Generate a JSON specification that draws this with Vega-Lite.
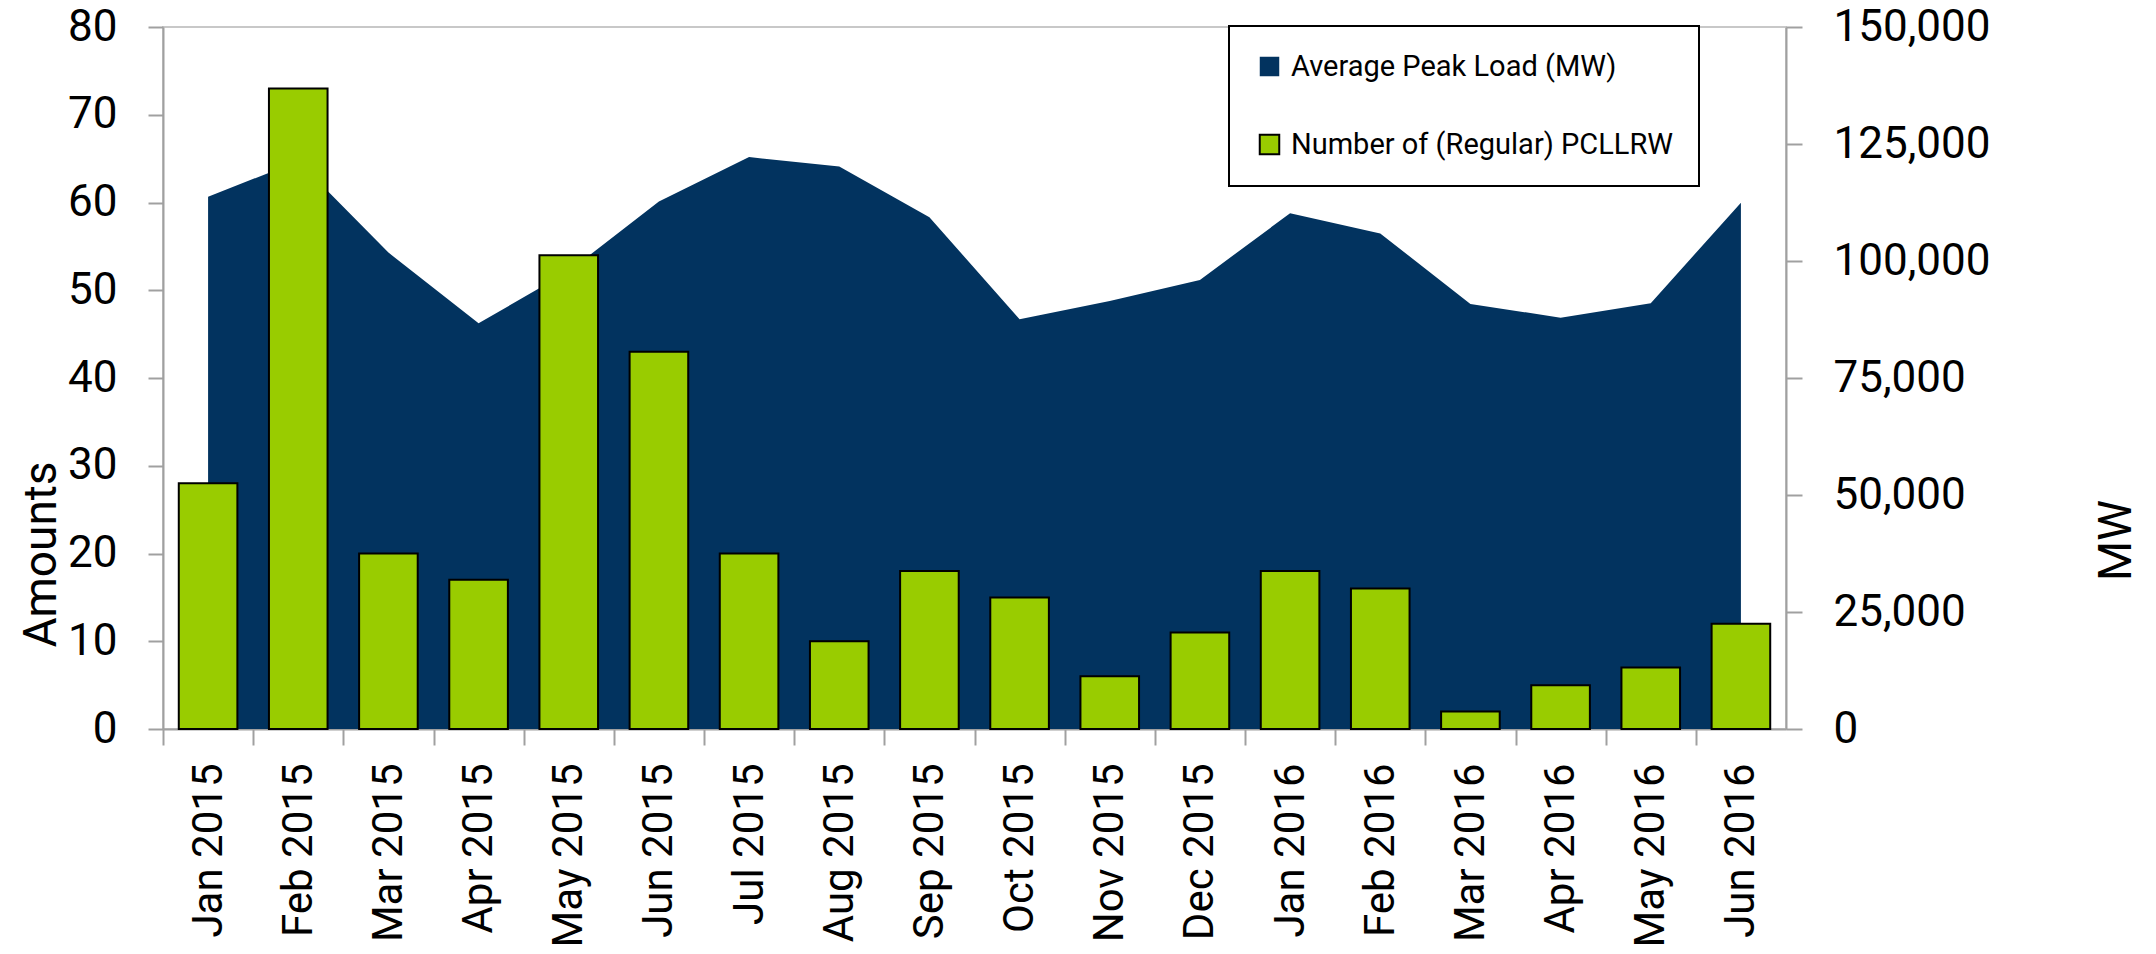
{
  "$schema": "https://vega.github.io/schema/vega-lite/v6.json",
  "width": 1623,
  "height": 702,
  "autosize": {"type": "none"},
  "padding": {"left": 163, "top": 27, "right": 370, "bottom": 225},
  "background": "white",
  "config": {
    "font": "Roboto",
    "view": {"stroke": "#c8c8c8", "strokeWidth": 2},
    "axis": {
      "domainColor": "#a0a0a0",
      "domainWidth": 2,
      "tickColor": "#a0a0a0",
      "tickWidth": 2,
      "labelFont": "Roboto",
      "labelFontSize": 44,
      "labelColor": "black",
      "labelLimit": 0,
      "titleFont": "Roboto",
      "titleFontSize": 46,
      "titleFontWeight": "normal",
      "titleColor": "black",
      "grid": false
    },
    "legend": {
      "labelFont": "Roboto",
      "labelLimit": 0
    }
  },
  "data": {
    "values": [
      {"month": "Jan 2015", "load": 113750, "count": 28},
      {"month": "Feb 2015", "load": 121300, "count": 73},
      {"month": "Mar 2015", "load": 101800, "count": 20},
      {"month": "Apr 2015", "load": 86700, "count": 17},
      {"month": "May 2015", "load": 97800, "count": 54},
      {"month": "Jun 2015", "load": 112700, "count": 43},
      {"month": "Jul 2015", "load": 122200, "count": 20},
      {"month": "Aug 2015", "load": 120200, "count": 10},
      {"month": "Sep 2015", "load": 109350, "count": 18},
      {"month": "Oct 2015", "load": 87550, "count": 15},
      {"month": "Nov 2015", "load": 91460, "count": 6},
      {"month": "Dec 2015", "load": 95950, "count": 11},
      {"month": "Jan 2016", "load": 110200, "count": 18},
      {"month": "Feb 2016", "load": 105900, "count": 16},
      {"month": "Mar 2016", "load": 90800, "count": 2},
      {"month": "Apr 2016", "load": 87900, "count": 5},
      {"month": "May 2016", "load": 90970, "count": 7},
      {"month": "Jun 2016", "load": 112470, "count": 12}
    ]
  },
  "encoding": {
    "x": {
      "field": "month",
      "type": "nominal",
      "sort": null,
      "scale": {"paddingInner": 0.35, "paddingOuter": 0.175},
      "axis": {
        "title": null,
        "labelAngle": -90,
        "labelAlign": "right",
        "labelBaseline": "middle",
        "labelFontSize": 42,
        "tickOffset": -45.08,
        "labelOffset": 45.08,
        "tickSize": 16,
        "labelPadding": 18
      }
    }
  },
  "layer": [
    {
      "mark": {"type": "area", "color": "#02335f"},
      "encoding": {
        "y": {
          "field": "load",
          "type": "quantitative",
          "scale": {"domain": [0, 150000], "nice": false},
          "axis": {
            "orient": "right",
            "values": [0, 25000, 50000, 75000, 100000, 125000, 150000],
            "format": ",d",
            "tickSize": 16,
            "labelPadding": 31,
            "title": "MW",
            "titleAngle": 270,
            "titleX": 344,
            "titleY": 513,
            "titleAlign": "center",
            "titleBaseline": "alphabetic"
          }
        },
        "color": {
          "datum": "Average Peak Load (MW)",
          "scale": {
            "domain": ["Average Peak Load (MW)", "Number of (Regular) PCLLRW"],
            "range": ["#02335f", "#99cc00"]
          },
          "legend": {
            "orient": "none",
            "legendX": 1066,
            "legendY": -1,
            "title": null,
            "labelFontSize": 29,
            "labelColor": "black",
            "symbolType": "square",
            "symbolSize": 380,
            "labelOffset": 7,
            "padding": 26,
            "rowPadding": 48,
            "strokeColor": "black",
            "fillColor": "white",
            "encode": {
              "legend": {"update": {"strokeWidth": {"value": 2}}},
              "symbols": {
                "update": {
                  "stroke": [
                    {"test": "datum.value === 'Number of (Regular) PCLLRW'", "value": "black"},
                    {"value": "transparent"}
                  ],
                  "strokeWidth": {"value": 2}
                }
              }
            }
          }
        }
      }
    },
    {
      "mark": {"type": "bar", "stroke": "black", "strokeWidth": 2},
      "encoding": {
        "y": {
          "field": "count",
          "type": "quantitative",
          "scale": {"domain": [0, 80], "nice": false},
          "axis": {
            "orient": "left",
            "values": [0, 10, 20, 30, 40, 50, 60, 70, 80],
            "tickSize": 15,
            "labelPadding": 31,
            "title": "Amounts",
            "titleAngle": 270,
            "titleX": -108,
            "titleY": 527,
            "titleAlign": "center",
            "titleBaseline": "alphabetic"
          }
        },
        "color": {"datum": "Number of (Regular) PCLLRW"}
      }
    }
  ],
  "resolve": {"scale": {"y": "independent"}}
}
